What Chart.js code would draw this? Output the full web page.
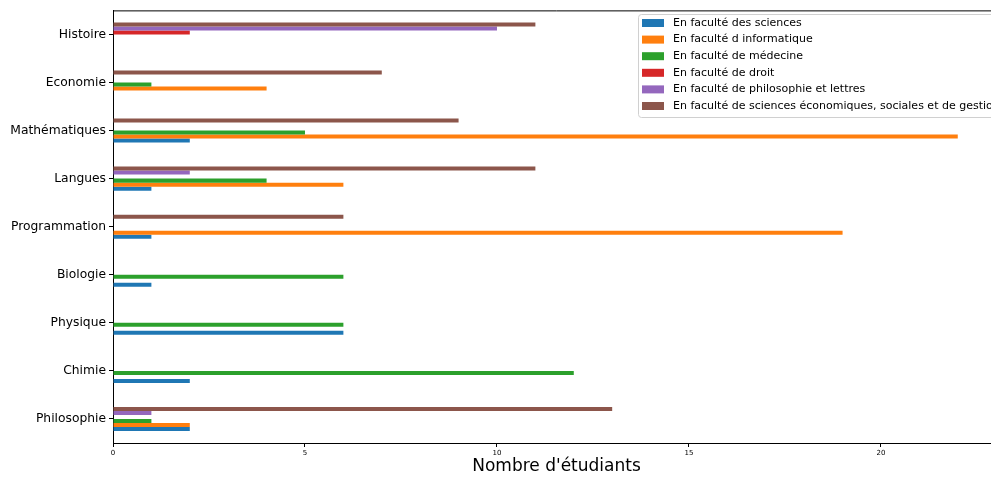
<!DOCTYPE html>
<html>
<head>
<meta charset="utf-8">
<script src="https://cdn.jsdelivr.net/npm/chart.js@4.4.1/dist/chart.umd.min.js"></script>
<style>
  html, body { margin: 0; padding: 0; overflow: hidden; background: #fff; }
  #wrap { width: 1000px; height: 477px; }
</style>
</head>
<body>
<div id="wrap"><canvas id="chart"></canvas></div>
<script>
// categories, top to bottom as in the picture
const categories = ['Histoire', 'Economie', 'Mathématiques', 'Langues', 'Programmation',
                    'Biologie', 'Physique', 'Chimie', 'Philosophie'];

const sciences     = [0, 0, 2, 1, 1, 1, 6, 2, 2];
const informatique = [0, 4, 22, 6, 19, 0, 0, 0, 2];
const medecine     = [0, 1, 5, 4, 0, 6, 6, 12, 1];
const droit        = [2, 0, 0, 0, 0, 0, 0, 0, 0];
const philoLettres = [10, 0, 0, 2, 0, 0, 0, 0, 1];
const sciencesEco  = [11, 7, 9, 11, 6, 0, 0, 0, 13];

const seriesNames = [
    'En faculté des sciences',
    'En faculté d informatique',
    'En faculté de médecine',
    'En faculté de droit',
    'En faculté de philosophie et lettres',
    'En faculté de sciences économiques, sociales et de gestion'
];
const seriesData = [sciences, informatique, medecine, droit, philoLettres, sciencesEco];
const colors = ['#1f77b4', '#ff7f0e', '#2ca02c', '#d62728', '#9467bd', '#8c564b'];

const xTicks = [0, 5, 10, 15, 20];

// first series sits at the bottom of each group, so datasets go in reverse
const datasets = seriesNames.map((name, i) => ({
    label: name,
    data: seriesData[i],
    backgroundColor: colors[i],
    borderWidth: 0,
    categoryPercentage: 0.5,
    barPercentage: 1.0,
    legendIndex: i
})).reverse();

// legend drawn inside the plot, top right, plus the top spine
const innerLegend = {
    id: 'innerLegend',
    afterDraw(chart) {
        const ctx = chart.ctx;
        const area = chart.chartArea;
        ctx.save();
        ctx.strokeStyle = '#000';
        ctx.lineWidth = 1;
        ctx.beginPath();
        ctx.moveTo(area.left, area.top + 0.5);
        ctx.lineTo(area.right, area.top + 0.5);
        ctx.stroke();

        const x0 = 638, y0 = 14, w = 358, h = 103;
        ctx.fillStyle = 'rgba(255,255,255,0.8)';
        ctx.strokeStyle = '#d0d0d0';
        ctx.beginPath();
        ctx.roundRect(x0 + 0.5, y0 + 0.5, w, h, 3);
        ctx.fill();
        ctx.stroke();

        ctx.font = '11px "DejaVu Sans"';
        ctx.textBaseline = 'middle';
        seriesNames.forEach((name, i) => {
            const cy = 23 + i * 16.6;
            ctx.fillStyle = colors[i];
            ctx.fillRect(642, cy - 4, 22, 8);
            ctx.fillStyle = '#000';
            ctx.fillText(name, 673, cy);
        });
        ctx.restore();
    }
};

new Chart(document.getElementById('chart'), {
    type: 'bar',
    data: { labels: categories, datasets: datasets },
    options: {
        indexAxis: 'y',
        responsive: true,
        maintainAspectRatio: false,
        animation: false,
        layout: { padding: { top: 10, left: 0, right: 0, bottom: 0 } },
        plugins: {
            legend: { display: false },
            tooltip: { enabled: false }
        },
        scales: {
            x: {
                min: 0,
                max: 23.1,
                afterBuildTicks(scale) {
                    scale.ticks = xTicks.map(v => ({ value: v }));
                },
                afterFit(scale) { scale.height = 34; },
                grid: { drawOnChartArea: false, drawTicks: true, tickLength: 4, color: '#000' },
                border: { display: true, color: '#000', width: 1 },
                ticks: { color: '#000', font: { family: 'DejaVu Sans', size: 7 }, padding: 2, maxRotation: 0 },
                title: {
                    display: true,
                    text: "Nombre d'étudiants",
                    color: '#000',
                    font: { family: 'DejaVu Sans', size: 17 },
                    padding: { top: 0, bottom: 0 }
                }
            },
            y: {
                afterFit(scale) { scale.width = 113; },
                grid: { offset: false, drawOnChartArea: false, drawTicks: true, tickLength: 4, color: '#000' },
                border: { display: true, color: '#000', width: 1 },
                ticks: { color: '#000', font: { family: 'DejaVu Sans', size: 12.3 }, padding: 3 }
            }
        }
    },
    plugins: [innerLegend]
});
</script>
</body>
</html>
